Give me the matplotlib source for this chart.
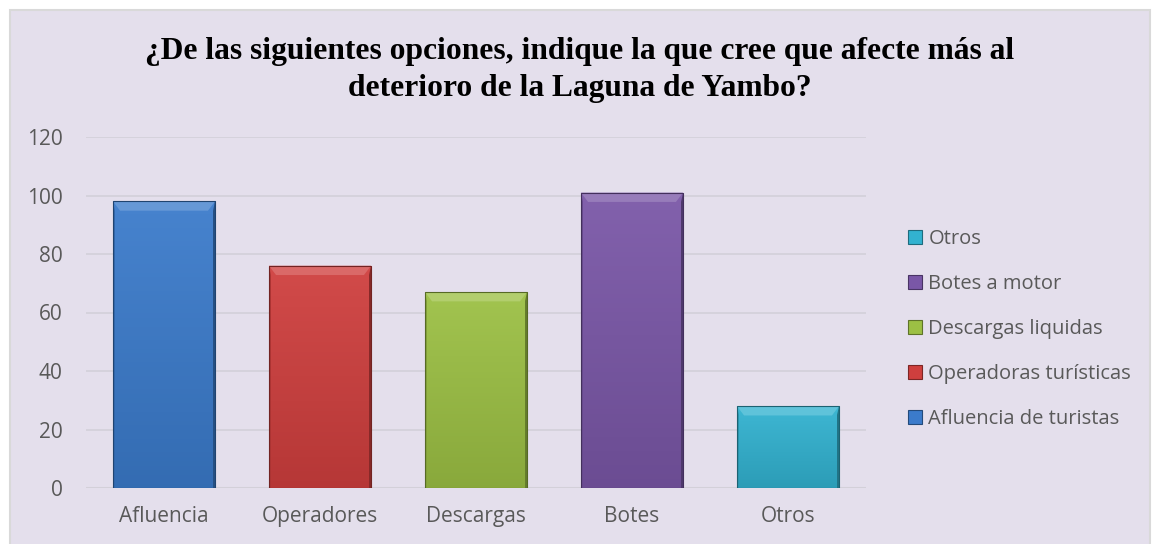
import matplotlib.pyplot as plt
import matplotlib.patches as mpatches
import numpy as np
from matplotlib.colors import to_rgb

categories = ['Afluencia', 'Operadores', 'Descargas', 'Botes', 'Otros']
values = [98, 76, 67, 101, 28]
legend_labels = ['Afluencia de turistas', 'Operadoras turísticas', 'Descargas liquidas',
                 'Botes a motor', 'Otros']
colors = ['#3B7BCB', '#CF3F3E', '#9CC044', '#7A57A7', '#32B2D0']

title = '¿De las siguientes opciones, indique la que cree que afecte más al\ndeterioro de la Laguna de Yambo?'

bg = '#E4DFEC'
fig = plt.figure(figsize=(11.6, 5.44), dpi=100)
fig.patch.set_facecolor('white')
# chart area frame
fig.patches.append(mpatches.Rectangle((10/1160, -0.01), 1140/1160, 1 - 10/544 + 0.01,
                                      transform=fig.transFigure, facecolor=bg, edgecolor='#D9D9D9',
                                      linewidth=1.5, zorder=-10))

ax = fig.add_axes([86/1160, 1 - 488/544, 780/1160, 351/544])
ax.set_facecolor(bg)
ax.patch.set_alpha(0)

x = np.arange(len(categories))
bars = ax.bar(x, values, width=0.655, color=colors, edgecolor='none', zorder=3)

def shade(c, f):
    r = np.array(to_rgb(c))
    if f >= 0:
        return tuple(r + (1 - r) * f)
    return tuple(r * (1 + f))

for b, c in zip(bars, colors):
    x0, w, h = b.get_x(), b.get_width(), b.get_height()
    # vertical gradient, lighter top
    grad = np.linspace(0, 1, 64)[:, None]
    top = np.array(shade(c, 0.06))
    bot = np.array(shade(c, -0.12))
    img = top[None, None, :] * (1 - grad[:, :, None]) + bot[None, None, :] * grad[:, :, None]
    im = ax.imshow(img, extent=[x0, x0 + w, 0, h], aspect='auto', zorder=3, origin='upper')
    im.set_clip_path(b)
    # bevels
    dx = w * 0.07
    dy = 3.2
    ax.add_patch(mpatches.Polygon([(x0, h), (x0 + w, h), (x0 + w - dx, h - dy), (x0 + dx, h - dy)],
                                  closed=True, facecolor=shade(c, 0.22), edgecolor='none', zorder=4))
    ax.add_patch(mpatches.Polygon([(x0 + w, h), (x0 + w, 0), (x0 + w - dx * 0.35, 0), (x0 + w - dx * 0.35, h - dy)],
                                  closed=True, facecolor=shade(c, -0.35), edgecolor='none', zorder=4))
    ax.add_patch(mpatches.Polygon([(x0, h), (x0, 0), (x0 + dx * 0.3, 0), (x0 + dx * 0.3, h - dy)],
                                  closed=True, facecolor=shade(c, -0.15), edgecolor='none', zorder=4))
    ax.add_patch(mpatches.Rectangle((x0, 0), w, h, facecolor='none', edgecolor=shade(c, -0.45),
                                    linewidth=0.8, zorder=5))

ax.set_xlim(-0.5, len(categories) - 0.5)
ax.set_ylim(0, 120)
ax.set_yticks(np.arange(0, 121, 20))
ax.set_xticks(x)
ax.set_xticklabels(categories)
ax.yaxis.grid(True, color='#D3D0D9', linewidth=1.2, zorder=0)
ax.set_axisbelow(True)
for s in ax.spines.values():
    s.set_visible(False)
ax.axhline(0, color='#D3D0D9', linewidth=1.5, zorder=2)
ax.tick_params(length=0, labelsize=15, labelcolor='#595959')
ax.tick_params(axis='x', pad=13)
ax.tick_params(axis='y', pad=17)
for t in ax.get_xticklabels() + ax.get_yticklabels():
    t.set_family('Open Sans')

fig.text(580/1160, 1 - 70/544, title, ha='center', va='center', fontsize=22.7, fontweight='bold',
         family='Liberation Serif', linespacing=1.4)

handles = [mpatches.Patch(facecolor=c, edgecolor=shade(c, -0.4), linewidth=0.8) for c in colors]
leg = fig.legend(handles[::-1], legend_labels[::-1], loc='center left',
                 bbox_to_anchor=(890/1160, 1 - 329/544), frameon=False,
                 prop={'family': 'Open Sans', 'size': 14.5}, labelcolor='#595959',
                 handlelength=0.7, handleheight=0.7, handletextpad=0.3, labelspacing=1.25)

fig.savefig('out.png', dpi=100, facecolor=fig.get_facecolor())
